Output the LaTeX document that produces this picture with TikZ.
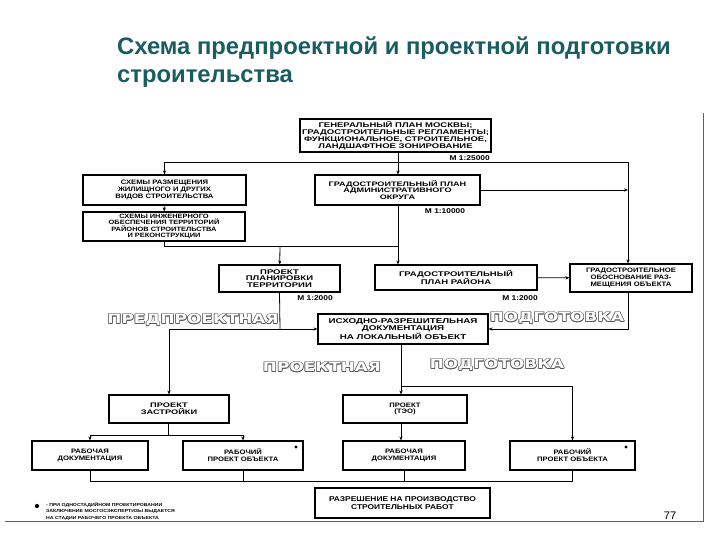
\documentclass[tikz,border=0pt]{standalone}
\usepackage{fontspec}
\usepackage{tikz}
\usetikzlibrary{arrows.meta}
\newfontfamily\titlefont{Liberation Sans}
\newfontfamily\boxfont{Liberation Sans}[FakeStretch=1.2]
\newfontfamily\widefont{Liberation Sans}[FakeStretch=1.4]
\newfontfamily\bandfont{DejaVu Sans}[FakeStretch=1.3]
\definecolor{ttl}{RGB}{24,93,98}
\definecolor{frm}{RGB}{48,118,118}

\tikzset{
  blk/.style={draw, line width=1.1pt, align=center, inner sep=0pt,
    font=\boxfont\bfseries\fontsize{6.4}{6.8}\selectfont},
  wide/.style={font=\widefont\bfseries\fontsize{#1}{#1}\selectfont},
  arr/.style={line width=0.8pt, -{Stealth[length=4pt,width=3.2pt]}},
  lnk/.style={line width=0.8pt},
  scl/.style={inner sep=0pt, font=\boxfont\bfseries\fontsize{7}{8}\selectfont},
  band/.style={inner sep=0pt, font=\bandfont\bfseries\fontsize{13}{13}\selectfont},
}
% outlined caption: name, position, text
\newcommand\bandtext[3]{%
  \foreach \a in {0,45,...,315}
    \node[band, text=black!65] at ([shift={(\a:0.7pt)}]#2) {#3};
  \node[band, text=white] (#1) at (#2) {#3};}

\begin{document}
\begin{tikzpicture}[x=1pt,y=-1pt]
\useasboundingbox (0,0) rectangle (720,540);

% Title
\node[anchor=north west, align=left, inner sep=0pt, text=ttl,
  font=\titlefont\bfseries\fontsize{23.8}{28}\selectfont] (title) at (117,37)
  {Схема предпроектной и проектной подготовки\\строительства};

%Shape: Rectangles
\node[blk, wide=6.8, minimum width=191pt, minimum height=33pt] (gen) at (395.5,135.5)
  {ГЕНЕРАЛЬНЫЙ ПЛАН МОСКВЫ;\\ГРАДОСТРОИТЕЛЬНЫЕ РЕГЛАМЕНТЫ;\\ФУНКЦИОНАЛЬНОЕ, СТРОИТЕЛЬНОЕ,\\ЛАНДШАФТНОЕ ЗОНИРОВАНИЕ};
\node[blk, minimum width=163pt, minimum height=30pt] (sxr) at (164.5,190)
  {СХЕМЫ РАЗМЕЩЕНИЯ\\ЖИЛИЩНОГО И ДРУГИХ\\ВИДОВ СТРОИТЕЛЬСТВА};
\node[blk, minimum width=162pt, minimum height=29pt,
  font=\boxfont\bfseries\fontsize{6.2}{6.4}\selectfont] (sxi) at (164,226.5)
  {СХЕМЫ ИНЖЕНЕРНОГО\\ОБЕСПЕЧЕНИЯ ТЕРРИТОРИЙ\\РАЙОНОВ СТРОИТЕЛЬСТВА\\И РЕКОНСТРУКЦИИ};
\node[blk, wide=6.5, minimum width=165pt, minimum height=30pt] (okr) at (397.5,190)
  {ГРАДОСТРОИТЕЛЬНЫЙ ПЛАН\\АДМИНИСТРАТИВНОГО\\ОКРУГА};
\node[blk, wide=6.8, minimum width=121pt, minimum height=27pt] (ppt) at (279.5,278.5)
  {ПРОЕКТ\\ПЛАНИРОВКИ\\ТЕРРИТОРИИ};
\node[blk, wide=6.8, minimum width=162pt, minimum height=25pt] (rai) at (456,277.5)
  {ГРАДОСТРОИТЕЛЬНЫЙ\\ПЛАН РАЙОНА};
\node[blk, minimum width=122pt, minimum height=28pt] (obo) at (631,278)
  {ГРАДОСТРОИТЕЛЬНОЕ\\ОБОСНОВАНИЕ РАЗ-\\МЕЩЕНИЯ ОБЪЕКТА};
\node[blk, wide=7, minimum width=170pt, minimum height=30pt] (isx) at (403,329)
  {ИСХОДНО-РАЗРЕШИТЕЛЬНАЯ\\ДОКУМЕНТАЦИЯ\\НА ЛОКАЛЬНЫЙ ОБЪЕКТ};
\node[blk, wide=6.6, minimum width=120pt, minimum height=28pt] (zas) at (169,409)
  {ПРОЕКТ\\ЗАСТРОЙКИ};
\node[blk, minimum width=124pt, minimum height=28pt] (teo) at (405,409)
  {ПРОЕКТ\\(ТЭО)};
\node[blk, minimum width=116pt, minimum height=29pt] (rdl) at (90,455.5)
  {РАБОЧАЯ\\ДОКУМЕНТАЦИЯ};
\node[blk, minimum width=120pt, minimum height=29pt] (rpl) at (243,455.5)
  {РАБОЧИЙ\\ПРОЕКТ ОБЪЕКТА};
\node[blk, minimum width=122pt, minimum height=29pt] (rdm) at (404,455.5)
  {РАБОЧАЯ\\ДОКУМЕНТАЦИЯ};
\node[blk, minimum width=125pt, minimum height=29pt] (rpr) at (572.5,455.5)
  {РАБОЧИЙ\\ПРОЕКТ ОБЪЕКТА};
\node[blk, minimum width=175pt, minimum height=30pt,
  font=\boxfont\bfseries\fontsize{7}{8}\selectfont] (fin) at (402.5,503)
  {РАЗРЕШЕНИЕ НА ПРОИЗВОДСТВО\\СТРОИТЕЛЬНЫХ РАБОТ};

% marks in the boxes
\fill (296,447) circle (1.6pt);
\fill (626,447) circle (1.6pt);

% Text Node
\node[scl, anchor=east] (m1) at (490,158) {М 1:25000};
\node[scl] (m2) at (445,211) {М 1:10000};
\node[scl] (m3) at (315,298) {М 1:2000};
\node[scl] (m4) at (520,298) {М 1:2000};

%Straight Lines
\coordinate (bus1) at (398,162);
\coordinate (rv) at (628,162);
\draw[arr] (gen.south -| bus1) -- (okr.north -| bus1);
\draw[arr] (bus1) -| (sxr);
\draw[arr] (bus1) -- (rv) -- (rv |- obo.north);
\draw[arr] (sxr) -- (sxi);
\draw[arr] (okr.east) -- (okr.east -| rv);
\coordinate (bus2) at (280,246);
\draw[lnk] (sxi.south) |- (bus2 -| bus1);
\draw[arr] (bus2) -- (ppt);
\draw[arr] (okr.south -| bus1) -- (rai.north -| bus1);
\draw[arr] (rai) -- (obo);
\coordinate (bus3) at (280,329);
\draw[lnk] (ppt.south) -- (bus3);
\draw[arr] (bus3) -- (isx.west);
\draw[arr] (bus3) -| (zas);
\draw[arr] (obo.south -| rv) |- (isx.east);
\coordinate (bus4) at (401,386);
\draw[arr] (isx.south -| bus4) -- (teo.north -| bus4);
\draw[arr] (bus4) -| (rpr);
\draw[arr] (teo.south -| bus4) -- (rdm.north -| bus4);
\coordinate (bus5) at (168,435);
\draw[lnk] (zas.south -| bus5) -- (bus5);
\draw[arr] (bus5) -| (rdl);
\draw[arr] (bus5) -| (rpl);
\coordinate (bus6) at (90,481);
\draw[lnk] (rdl.south) -- (bus6) -| (rpr.south);
\draw[lnk] (rpl.south) -- (rpl.south |- bus6);
\draw[lnk] (rdm.south) -- (rdm.south |- bus6);

% stage captions
\bandtext{b1}{193,320}{ПРЕДПРОЕКТНАЯ}
\bandtext{b2}{557,318}{ПОДГОТОВКА}
\bandtext{b3}{322,367}{ПРОЕКТНАЯ}
\bandtext{b4}{497,365}{ПОДГОТОВКА}

% footnote
\node[circle, fill, inner sep=1.5pt] (bul) at (37,506) {};
\node[anchor=west, align=left, inner sep=0pt,
  font=\boxfont\bfseries\fontsize{4.3}{6.5}\selectfont] (note) at (46,511)
  {- ПРИ ОДНОСТАДИЙНОМ ПРОЕКТИРОВАНИИ\\ЗАКЛЮЧЕНИЕ МОСГОСЭКСПЕРТИЗЫ ВЫДАЕТСЯ\\НА СТАДИИ РАБОЧЕГО ПРОЕКТА ОБЪЕКТА};
\node[font=\titlefont\fontsize{11}{11}\selectfont] (pg) at (670,516) {77};

% frame
\draw[frm, line width=1pt] (5,521) -- (703,521) -- (703,113);
\end{tikzpicture}
\end{document}
